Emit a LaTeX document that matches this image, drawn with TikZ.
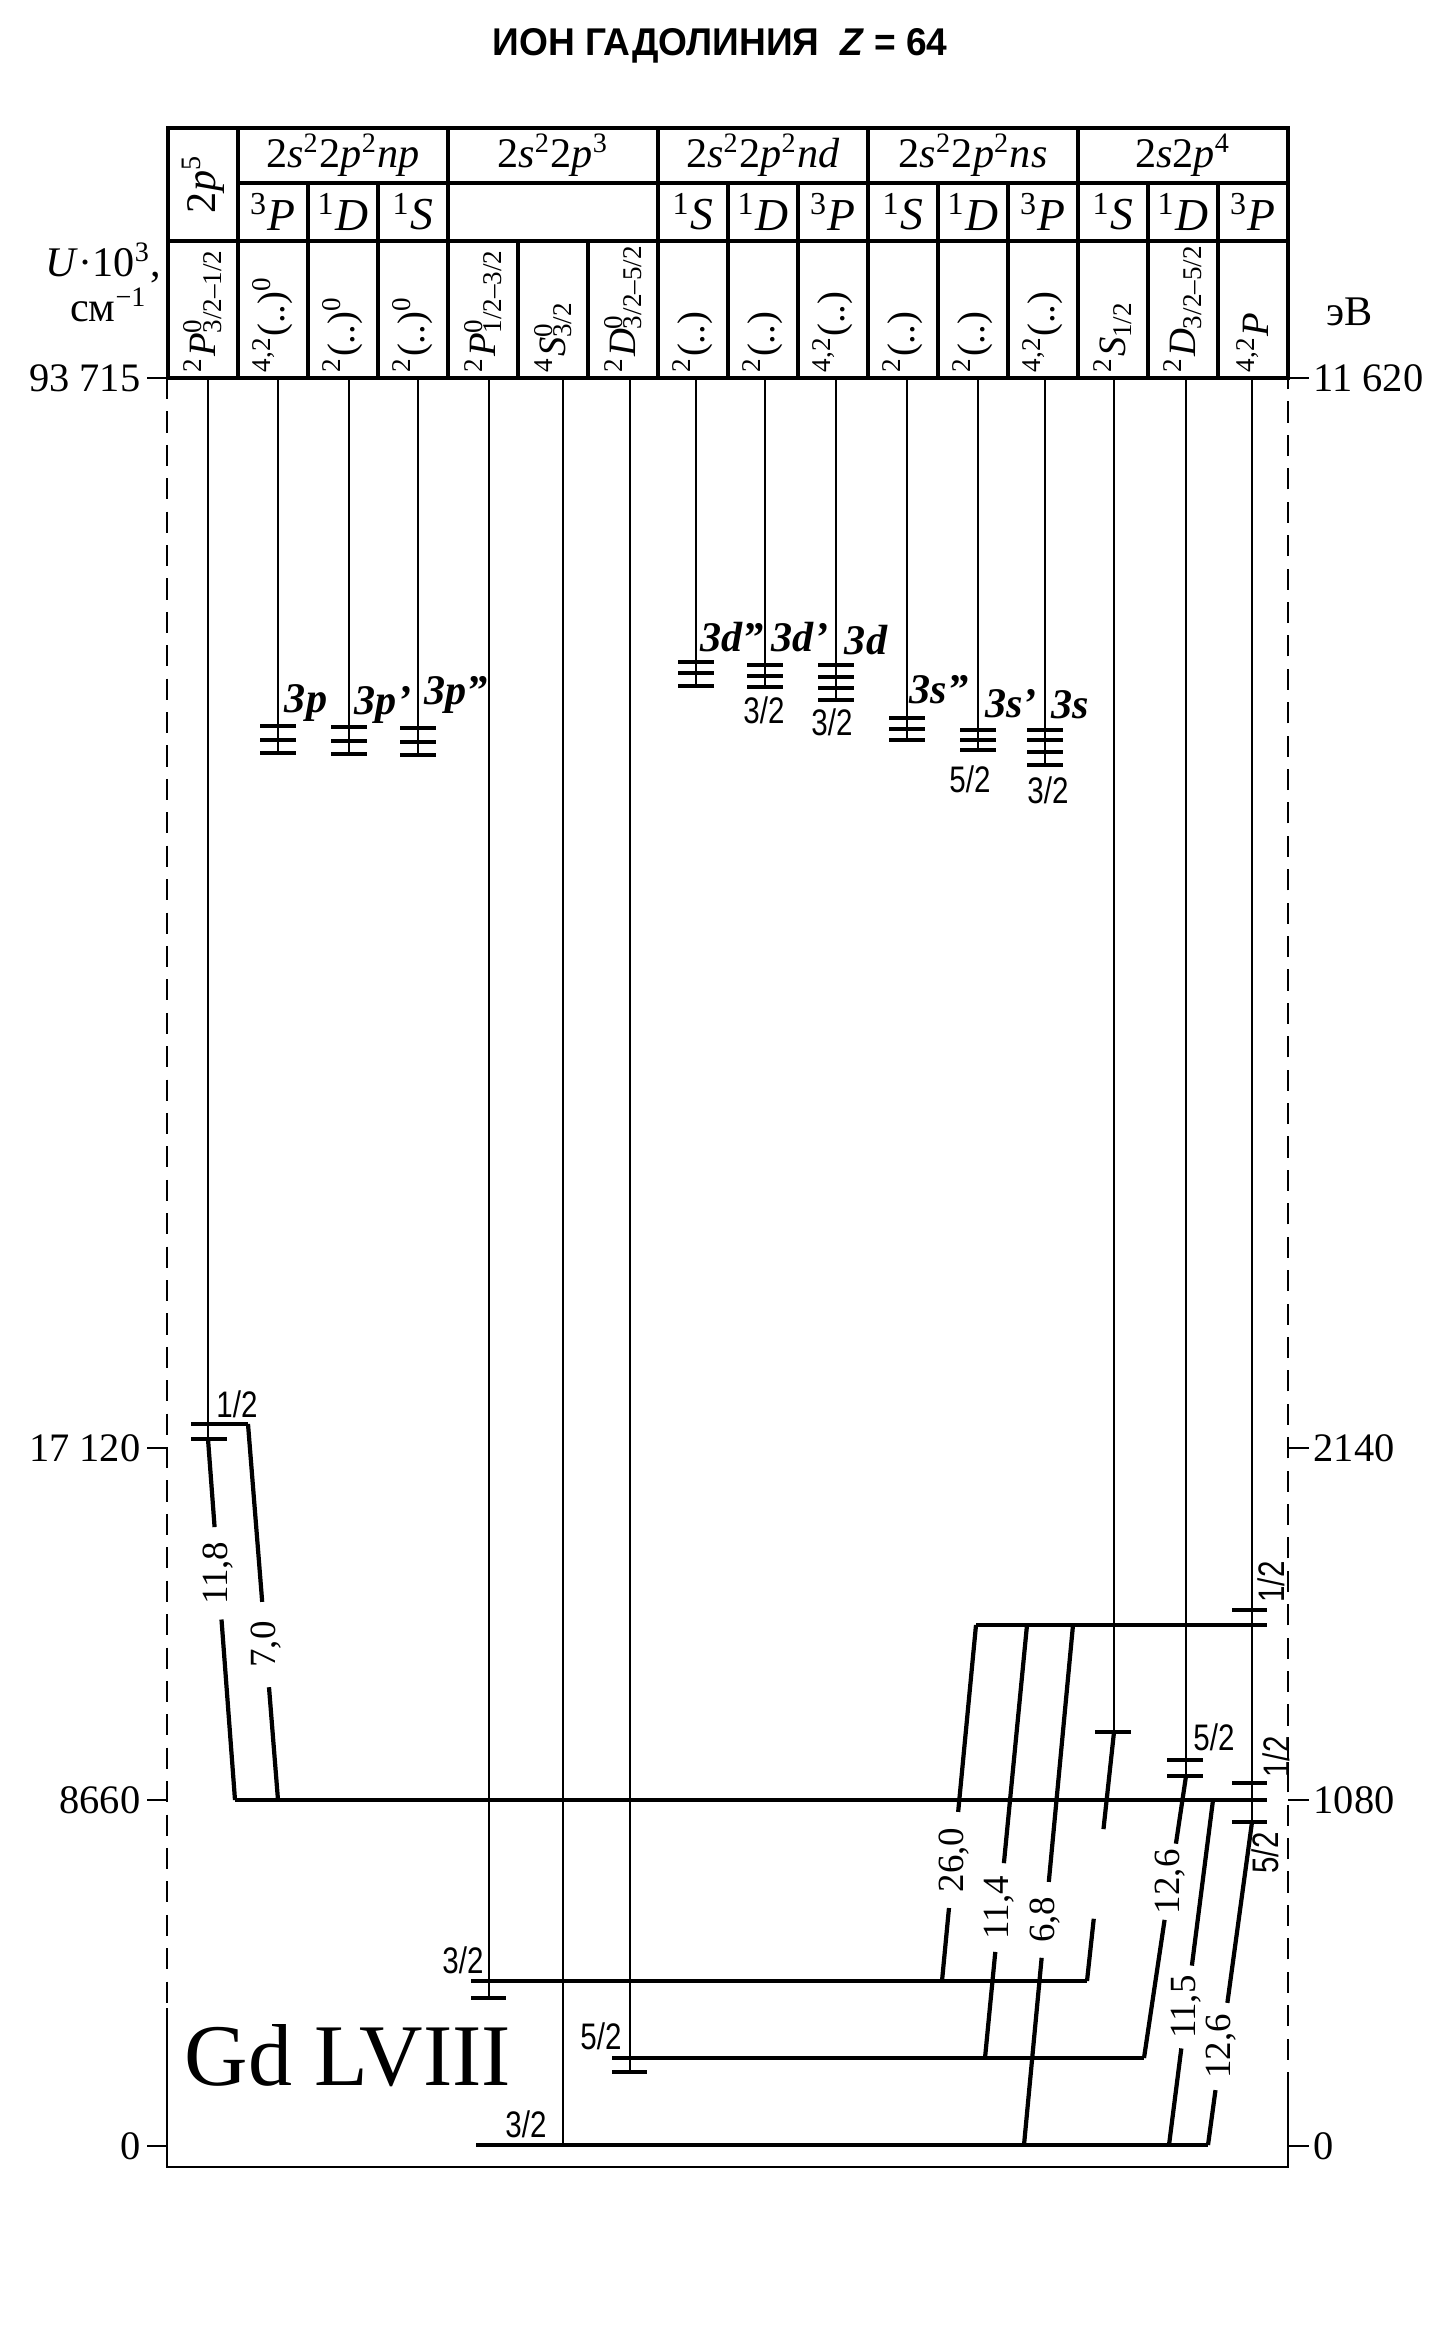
\documentclass[tikz,border=0pt]{standalone}
\usepackage{fontspec}
\setmainfont{Liberation Serif}
\setsansfont{Liberation Sans}
\usepackage{tikz}
\usetikzlibrary{positioning, calc}

\newcommand\tsup[1]{\textsuperscript{#1}}
\newcommand\tsub[1]{\textsubscript{#1}}
\newcommand\supsub[2]{\rlap{\textsuperscript{#1}}\textsubscript{#2}}
\newcommand\jv[1]{\scalebox{0.8}[1]{#1}}
% transition from #1 (lower) to #2 (upper), broken between #3 and #4, label #5 named #6
\newcommand\trline[6]{%
  \draw[trans] (#1) -- ($(#1)!#3!(#2)$);
  \draw[trans] ($(#1)!#4!(#2)$) -- (#2);
  \path (#1) -- node[tval, pos=#3/2+#4/2] (#6) {#5} (#2);
}

\begin{document}
\begin{tikzpicture}[x=0.01cm, y=-0.01cm,
        grid/.style={line width=1pt},
        col/.style={line width=0.65pt},
        lvl/.style={line width=1.2pt},
        trans/.style={line width=1.2pt},
        frame/.style={line width=0.7pt, dash pattern=on 6pt off 3.5pt},
        solid frame/.style={line width=0.7pt},
        head/.style={font=\fontsize{12}{14}\selectfont, inner sep=0pt},
        term/.style={font=\fontsize{13}{15}\selectfont, inner sep=0pt},
        conf/.style={font=\fontsize{11}{13}\selectfont, rotate=90, anchor=west, inner sep=0pt},
        series/.style={font=\fontsize{12}{14}\selectfont\bfseries\itshape, inner sep=0pt},
        jval/.style={font=\sffamily\fontsize{10.5}{12}\selectfont, inner sep=0pt},
        tval/.style={font=\fontsize{10.5}{12}\selectfont, rotate=90, inner sep=0pt},
        axis/.style={font=\fontsize{11.5}{13}\selectfont, inner sep=0pt},
        ]
        \useasboundingbox (0,0) rectangle (1452,2343);

        \node[font=\sffamily\bfseries\fontsize{11}{13}\selectfont] (title) at (720,46) {\scalebox{0.96}[1]{ИОН ГАДОЛИНИЯ\ \ \textit{Z} = 64}};

        % table
        \draw[grid] (168,128) rectangle (1288,378);
        \draw[grid] (238,183) -- (1288,183);
        \draw[grid] (168,241) -- (1288,241);
        \foreach \x in {238,448,658,868,1078} \draw[grid] (\x,128) -- (\x,378);
        \foreach \x in {308,378,728,798,938,1008,1148,1218} \draw[grid] (\x,183) -- (\x,378);
        \foreach \x in {518,588} \draw[grid] (\x,241) -- (\x,378);

        \node[head, rotate=90] (h0) at (203,184) {2\textit{p}\tsup{5}};
        \foreach \x/\t [count=\i] in {343/np, 763/nd, 973/ns}
          \node[head] (h\i) at (\x,155) {2\textit{s}\tsup{2}2\textit{p}\tsup{2}\textit{\t}};
        \node[head] (h4) at (553,155) {2\textit{s}\tsup{2}2\textit{p}\tsup{3}};
        \node[head] (h5) at (1183,155) {2\textit{s}2\textit{p}\tsup{4}};

        \foreach \c/\m/\L in {1/3/P, 2/1/D, 3/1/S, 7/1/S, 8/1/D, 9/3/P, 10/1/S, 11/1/D, 12/3/P, 13/1/S, 14/1/D, 15/3/P}
          \node[term] (r\c) at (203+70*\c,212) {\tsup{\m}\textit{\L}};

        \foreach \c/\t in {0/{\tsup{2}\textit{P}\supsub{0}{3/2–1/2}}, 1/{\tsup{4,2}(..)\tsup{0}},
            2/{\tsup{2}(..)\tsup{0}}, 3/{\tsup{2}(..)\tsup{0}}, 4/{\tsup{2}\textit{P}\supsub{0}{1/2–3/2}},
            5/{\tsup{4}\textit{S}\supsub{0}{3/2}}, 6/{\tsup{2}\textit{D}\supsub{0}{3/2–5/2}},
            7/{\tsup{2}(..)}, 8/{\tsup{2}(..)}, 9/{\tsup{4,2}(..)}, 10/{\tsup{2}(..)}, 11/{\tsup{2}(..)},
            12/{\tsup{4,2}(..)}, 13/{\tsup{2}\textit{S}\tsub{1/2}}, 14/{\tsup{2}\textit{D}\tsub{3/2–5/2}},
            15/{\tsup{4,2}\textit{P}}}
          \node[conf] (k\c) at (203+70*\c,373) {\t};

        % axes
        \node[font=\fontsize{12}{14}\selectfont, anchor=east, inner sep=0pt] (u1) at (162,263) {\textit{U}·10\tsup{3},};
        \node[font=\fontsize{12}{14}\selectfont, anchor=east, inner sep=0pt] (u2) at (148,305) {см\tsup{−1}};
        \node[font=\fontsize{12}{14}\selectfont, inner sep=0pt] (u3) at (1350,312) {эВ};
        \foreach \y/\a/\b [count=\i] in {378/93 715/11 620, 1448/17 120/2140, 1800/8660/1080, 2146/0/0} {
          \draw[line width=0.8pt] (147,\y) -- (167,\y);
          \draw[line width=0.8pt] (1288,\y) -- (1309,\y);
          \node[axis, anchor=east] (al\i) at (141,\y) {\a};
          \node[axis, anchor=west] (ar\i) at (1313,\y) {\b};
        }
        \coordinate (fl) at (167,378);
        \coordinate (fl2) at (167,2008);
        \coordinate (fbl) at (167,2167);
        \coordinate (fbr) at (1288,2167);
        \coordinate (fr2) at (1288,2093);
        \coordinate (fr) at (1288,378);
        \draw[frame] (fl) -- (fl2);
        \draw[solid frame] (fl2) -- (fbl) -- (fbr) -- (fr2);
        \draw[frame] (fr2) -- (fr);

        % term lines
        \foreach \x/\yb [count=\i from 0] in {208/1439, 278/753, 349/754, 418/755, 489/1998, 563/2145, 630/2072,
            696/686, 765/687, 836/700, 907/740, 978/750, 1045/765, 1114/1732, 1186/1776, 1252/1822} {
          \coordinate (t\i) at (\x,378);
          \coordinate (b\i) at (\x,\yb);
          \draw[col] (t\i) -- (b\i);
        }

        % upper levels
        \foreach \x/\ys in {278/{726,740,753}, 349/{727,741,754}, 418/{728,742,755}, 696/{662,673,686},
            765/{665,676,687}, 836/{665,677,688,700}, 907/{718,729,740}, 978/{730,740,750}, 1045/{730,740,752,765}}
          \foreach \y in \ys \draw[lvl] (\x-18,\y) -- (\x+18,\y);
        \node[series] (s1) at (306,703) {3p};
        \node[series] (s2) at (383,705) {3p'};
        \node[series] (s3) at (456,695) {3p''};
        \node[series] (s4) at (732,637) {3d''};
        \node[series] (s5) at (800,637) {3d'};
        \node[series] (s6) at (866,640) {3d};
        \node[series] (s7) at (939,690) {3s''};
        \node[series] (s8) at (1011,704) {3s'};
        \node[series] (s9) at (1070,705) {3s};
        \node[jval] (j1) at (764,710) {\jv{3/2}};
        \node[jval] (j2) at (832,722) {\jv{3/2}};
        \node[jval] (j3) at (970,779) {\jv{5/2}};
        \node[jval] (j4) at (1048,790) {\jv{3/2}};

        % lower levels
        \coordinate (p2a) at (248,1424);
        \draw[lvl] (191,1424) -- (p2a);
        \draw[lvl] (191,1439) -- (227,1439);
        \node[jval] (j5) at (237,1404) {\jv{1/2}};

        \coordinate (ka) at (235,1800);
        \coordinate (kb) at (278,1800);
        \coordinate (kc) at (1213,1800);
        \coordinate (ke) at (1267,1800);
        \draw[lvl] (ka) -- (ke);

        \coordinate (ua) at (976,1625);
        \coordinate (ub) at (1027,1625);
        \coordinate (uc) at (1073,1625);
        \coordinate (ue) at (1267,1625);
        \draw[lvl] (ua) -- (ue);
        \foreach \y in {1610,1783,1822} \draw[lvl] (1232,\y) -- (1267,\y);
        \foreach \y in {1760,1776} \draw[lvl] (1167,\y) -- (1203,\y);
        \draw[lvl] (1095,1732) -- (1131,1732);
        \node[jval, rotate=90] (j6) at (1271,1582) {\jv{1/2}};
        \node[jval, rotate=90] (j7) at (1276,1757) {\jv{1/2}};
        \node[jval, rotate=90] (j8) at (1265,1853) {\jv{5/2}};
        \node[jval] (j9) at (1214,1737) {\jv{5/2}};

        \coordinate (pa) at (471,1981);
        \coordinate (pb) at (1087,1981);
        \coordinate (pc) at (942,1981);
        \draw[lvl] (pa) -- (pb);
        \draw[lvl] (471,1998) -- (506,1998);
        \node[jval] (j10) at (463,1960) {\jv{3/2}};

        \coordinate (da) at (612,2058);
        \coordinate (db) at (1144,2058);
        \coordinate (dc) at (985,2058);
        \draw[lvl] (da) -- (db);
        \draw[lvl] (612,2072) -- (647,2072);
        \node[jval] (j11) at (601,2036) {\jv{5/2}};

        \coordinate (ga) at (476,2145);
        \coordinate (gb) at (1208,2145);
        \coordinate (gc) at (1024,2145);
        \coordinate (gd) at (1169,2145);
        \draw[lvl] (ga) -- (gb);
        \node[jval] (j12) at (526,2124) {\jv{3/2}};

        % transitions
        \trline{ka}{b0}{0.50}{0.756}{11,8}{w1}
        \trline{kb}{p2a}{0.30}{0.527}{7,0}{w2}
        \trline{pc}{ua}{0.205}{0.475}{26,0}{w3}
        \trline{dc}{ub}{0.245}{0.45}{11,4}{w4}
        \trline{gc}{uc}{0.36}{0.506}{6,8}{w5}
        \trline{db}{b14}{0.49}{0.76}{12,6}{w6}
        \trline{gd}{kc}{0.28}{0.52}{11,5}{w7}
        \trline{gb}{b15}{0.17}{0.44}{12,6}{w8}
        \draw[trans] (b13) -- ($(b13)!0.39!(pb)$);
        \draw[trans] ($(b13)!0.75!(pb)$) -- (pb);

        \node[font=\fontsize{25}{30}\selectfont, anchor=base west, inner sep=0pt] (ion) at (184,2085) {Gd LVIII};
\end{tikzpicture}
\end{document}
